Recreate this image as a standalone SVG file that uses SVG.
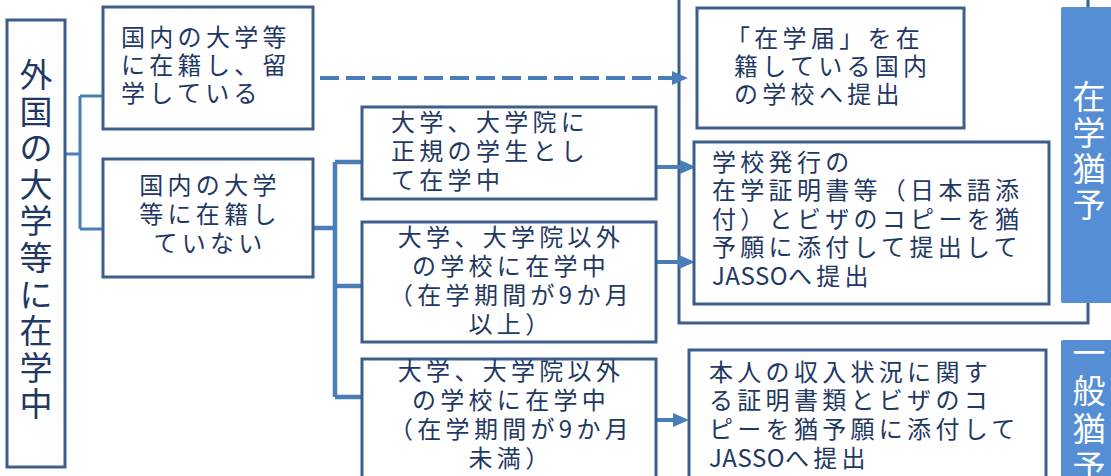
<svg xmlns="http://www.w3.org/2000/svg" width="1111" height="476" viewBox="0 0 1111 476">
<style>
.box{fill:#fff;stroke:#3b5e8c;stroke-width:3}
.frame{fill:none;stroke:#3b5e8c;stroke-width:3}
.t{font-family:"Noto Sans CJK JP","Noto Sans",sans-serif;font-size:24px;fill:#1f3864;letter-spacing:4.3px}
.lat{letter-spacing:0.5px}
.tv{font-family:"Noto Sans CJK JP","Noto Sans",sans-serif;font-size:33px;fill:#1f3864;text-anchor:middle}
.tab{fill:#558ed5}
.tw{font-family:"Noto Sans CJK JP","Noto Sans",sans-serif;font-size:33px;fill:#fff;text-anchor:middle}
.c{fill:none;stroke:#4a7ebb;stroke-width:3}
.cw{fill:none;stroke:#4a7ebb;stroke-width:4.5}
.mid{text-anchor:middle}
</style>
<defs>
<marker id="ah" markerUnits="userSpaceOnUse" markerWidth="16" markerHeight="14" refX="0" refY="7" orient="auto" overflow="visible">
<path d="M0,0 L16,7 L0,14 z" fill="#4a7ebb"/>
</marker>
</defs>
<rect width="1111" height="476" fill="#fff"/>

<g id="frame-zaigaku">
<path class="frame" d="M679,-5 V323 H1088 V-5"/>
</g>

<g id="connectors">
<path class="c" d="M65,154 H80 M80,96 V229 M80,96 H103 M80,229 H103"/>
<path class="cw" d="M313,228 H335 M335,162 V397 M335,162 H362 M335,286 H362 M335,397 H362"/>
<line x1="320" y1="78" x2="672" y2="78" stroke="#4a7ebb" stroke-width="4" stroke-dasharray="19,7" marker-end="url(#ah)"/>
<line x1="656" y1="167" x2="680" y2="167" stroke="#4a7ebb" stroke-width="4" marker-end="url(#ah)"/>
<line x1="656" y1="262" x2="679" y2="262" stroke="#4a7ebb" stroke-width="4" marker-end="url(#ah)"/>
<line x1="656" y1="420" x2="673" y2="420" stroke="#4a7ebb" stroke-width="4" marker-end="url(#ah)"/>
</g>

<g id="node-root">
<rect class="box" x="7" y="20" width="58" height="447"/>
<text class="tv">
<tspan x="36" y="87">外</tspan><tspan x="36" y="124">国</tspan><tspan x="36" y="160">の</tspan><tspan x="36" y="197">大</tspan><tspan x="36" y="233">学</tspan><tspan x="36" y="270">等</tspan><tspan x="36" y="307">に</tspan><tspan x="36" y="343">在</tspan><tspan x="36" y="380">学</tspan><tspan x="36" y="416">中</tspan>
</text>
</g>

<g id="node-ryugaku">
<rect class="box" x="103" y="7" width="210" height="122"/>
<text class="t"><tspan x="121" y="46">国内の大学等</tspan><tspan x="121" y="74">に在籍し、留</tspan><tspan x="121" y="102">学している</tspan></text>
</g>

<g id="node-not-enrolled">
<rect class="box" x="103" y="159" width="210" height="118"/>
<text class="t mid"><tspan x="210" y="194">国内の大学</tspan><tspan x="210" y="223">等に在籍し</tspan><tspan x="210" y="252">ていない</tspan></text>
</g>

<g id="node-regular">
<rect class="box" x="362" y="107" width="294" height="92"/>
<text class="t"><tspan x="391" y="131">大学、大学院に</tspan><tspan x="391" y="160">正規の学生とし</tspan><tspan x="391" y="189">て在学中</tspan></text>
</g>

<g id="node-other-9plus">
<rect class="box" x="362" y="222" width="294" height="120"/>
<text class="t mid"><tspan x="511" y="246">大学、大学院以外</tspan><tspan x="511" y="275">の学校に在学中</tspan><tspan x="511" y="304">（在学期間が9か月</tspan><tspan x="511" y="333">以上）</tspan></text>
</g>

<g id="node-other-under9">
<rect class="box" x="362" y="359" width="294" height="130"/>
<text class="t mid"><tspan x="511" y="380">大学、大学院以外</tspan><tspan x="511" y="409">の学校に在学中</tspan><tspan x="511" y="438">（在学期間が9か月</tspan><tspan x="511" y="467">未満）</tspan></text>
</g>

<g id="node-zaigakutodoke">
<rect class="box" x="697" y="8" width="267" height="120"/>
<text class="t"><tspan x="726" y="47">「在学届」を在</tspan><tspan x="734" y="75">籍している国内</tspan><tspan x="734" y="103">の学校へ提出</tspan></text>
</g>

<g id="node-certificate">
<rect class="box" x="694" y="142" width="355" height="162"/>
<text class="t"><tspan x="712" y="171">学校発行の</tspan><tspan x="712" y="199">在学証明書等（日本語添</tspan><tspan x="712" y="228">付）とビザのコピーを猶</tspan><tspan x="712" y="256">予願に添付して提出して</tspan><tspan x="712" y="285" class="lat">JASSO</tspan><tspan>へ提出</tspan></text>
</g>

<g id="node-income">
<rect class="box" x="689" y="350" width="357" height="140"/>
<text class="t"><tspan x="709" y="381">本人の収入状況に関す</tspan><tspan x="709" y="409">る証明書類とビザのコ</tspan><tspan x="709" y="438">ピーを猶予願に添付して</tspan><tspan x="709" y="467" class="lat">JASSO</tspan><tspan>へ提出</tspan></text>
</g>

<g id="tab-zaigaku">
<rect class="tab" x="1061" y="7" width="60" height="296" rx="2"/>
<text class="tw"><tspan x="1089" y="109">在</tspan><tspan x="1089" y="145">学</tspan><tspan x="1089" y="181">猶</tspan><tspan x="1089" y="217">予</tspan></text>
</g>

<g id="tab-ippan">
<rect class="tab" x="1061" y="340" width="60" height="150" rx="2"/>
<text class="tw"><tspan x="1089" y="365">一</tspan><tspan x="1089" y="403">般</tspan><tspan x="1089" y="441">猶</tspan><tspan x="1089" y="479">予</tspan></text>
</g>
</svg>
